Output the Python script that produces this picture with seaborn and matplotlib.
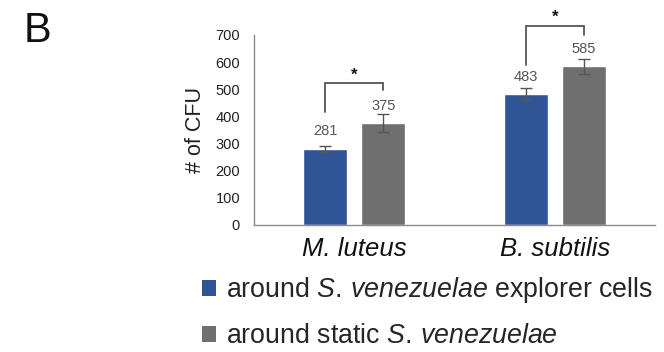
import matplotlib
matplotlib.use("Agg")
import matplotlib.pyplot as plt
import seaborn as sns
import pandas as pd
import numpy as np

# ---- data ----
categories = ["M. luteus", "B. subtilis"]
series = ["explorer", "static"]
explorer_values = [281, 483]
static_values = [375, 585]
explorer_err = [11, 23]
static_err = [33, 27]
# bracket levels (left bottom, top, right bottom) per category
bracket_levels = [[417, 522, 497], [590, 733, 700]]
legend_labels = [r"around $\it{S.\,venezuelae}$ explorer cells",
                 r"around static $\it{S.\,venezuelae}$"]
yticks = [0, 100, 200, 300, 400, 500, 600, 700]

colors = ["#2f5597", "#6f6f6f"]

sns.set_theme(style="white")
plt.rcParams["font.family"] = ["Liberation Sans", "DejaVu Sans"]
plt.rcParams["mathtext.fontset"] = "custom"
plt.rcParams["mathtext.rm"] = "Liberation Sans"
plt.rcParams["mathtext.it"] = "Liberation Sans:italic"

df = pd.DataFrame({
    "category": categories * 2,
    "series": [series[0]] * 2 + [series[1]] * 2,
    "value": explorer_values + static_values,
})
errs = explorer_err + static_err

fig = plt.figure(figsize=(6.64, 3.52), dpi=100)
ax = fig.add_axes([0.3825, 0.361, 0.604, 0.5396])

sns.barplot(data=df, x="category", y="value", hue="series", order=categories,
            hue_order=series, palette=colors, width=0.58, gap=0.24,
            errorbar=None, legend=False, ax=ax, saturation=1)

ax.set_xlim(-0.5, 1.5)
ax.set_ylim(0, 700)
ax.set_yticks(yticks)
ax.set_ylabel("# of CFU", fontsize=15.5, color="#222222", labelpad=7)
ax.set_xlabel("")
ax.tick_params(axis="y", length=0, pad=10, labelsize=10.5, colors="#222222")
ax.tick_params(axis="x", length=0, pad=9, labelsize=18.5, colors="#111111")
for lbl in ax.get_xticklabels():
    lbl.set_fontstyle("italic")
for s in ["top", "right"]:
    ax.spines[s].set_visible(False)
for s in ["left", "bottom"]:
    ax.spines[s].set_color("#8a8a8a")
    ax.spines[s].set_linewidth(1.0)

# bars by hue (containers in hue order)
bar_containers = list(ax.containers)
centers = {}
for hi, cont in enumerate(bar_containers):
    for ci, p in enumerate(cont.patches):
        x = p.get_x() + p.get_width() / 2
        h = p.get_height()
        centers[(hi, ci)] = x
        e = errs[hi * 2 + ci]
        ax.errorbar(x, h, yerr=e, fmt="none", ecolor="#555555",
                    elinewidth=1.0, capsize=4, capthick=1.0)
        ax.annotate(f"{int(h)}", (x, h), xytext=(0, 12.5), textcoords="offset points",
                    ha="center", va="center", fontsize=10.5, color="#555555")

# significance brackets
for ci, (lb, top, rb) in enumerate(bracket_levels):
    xl = centers[(0, ci)]
    xr = centers[(1, ci)]
    ax.plot([xl, xl, xr, xr], [lb, top, top, rb], color="#555555", lw=1.3,
            clip_on=False, solid_joinstyle="miter")
    ax.text((xl + xr) / 2, top + 3, "*", ha="center", va="bottom",
            fontsize=12, fontweight="bold", color="#111111", clip_on=False)

# legend
from matplotlib.patches import Patch
handles = [Patch(facecolor=c, edgecolor="none") for c in colors]
fig.legend(handles, legend_labels, loc="upper left", bbox_to_anchor=(0.3036, 0.218),
           frameon=False, fontsize=19.3, handlelength=0.52, handleheight=0.52,
           handletextpad=0.4, labelspacing=0.68, borderaxespad=0, borderpad=0)

fig.text(0.035, 0.97, "B", fontsize=30, ha="left", va="top", color="#111111")

fig.savefig("out.png", dpi=100)
